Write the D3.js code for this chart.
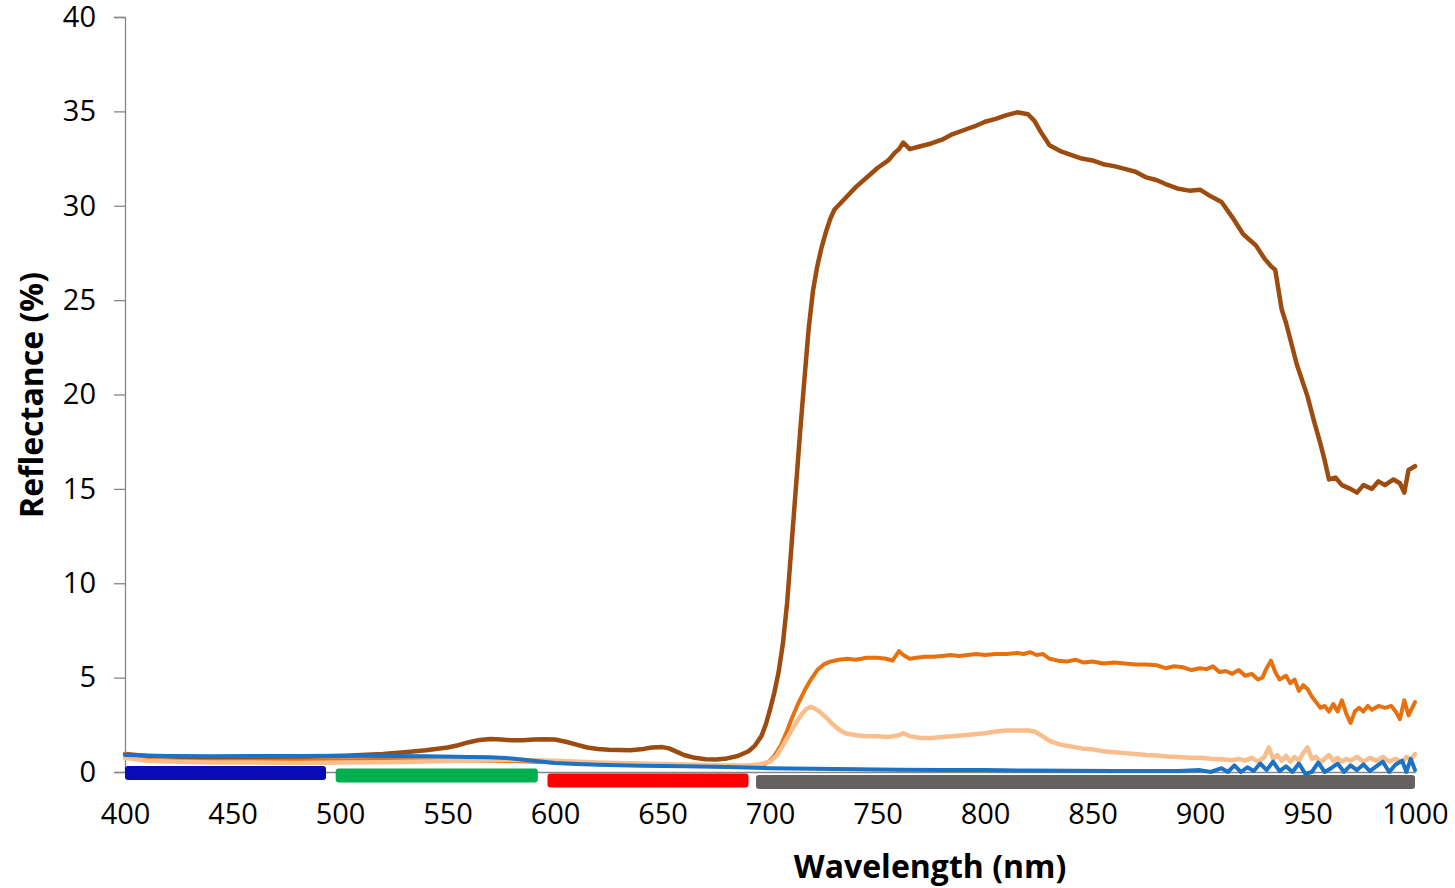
<!DOCTYPE html>
<html>
<head>
<meta charset="utf-8">
<script src="https://cdn.jsdelivr.net/npm/d3@7"></script>
<style>
  html, body { margin: 0; padding: 0; background: #fff; }
  svg { display: block; }
</style>
</head>
<body>
<svg id="chart" width="1455" height="888"></svg>
<script>
// ---------- Axis ticks ----------
const xTicks = [400, 450, 500, 550, 600, 650, 700, 750, 800, 850, 900, 950, 1000];
const yTicks = [0, 5, 10, 15, 20, 25, 30, 35, 40];

// ---------- Series: dark brown ----------
const brownWl = [400,410,420,430,440,450,460,470,480,490,500,510,520,530,540,550,555,560,565,570,575,580,585,590,595,600,605,610,615,620,625,630,635,640,645,650,653,657,660,665,670,675,680,685,690,693,696,698,700,702,704,706,708,710,712,714,716,718,720,722,724,726,728,730,735,740,745,750,755,758,760,762,765,770,775,780,785,790,795,800,805,810,815,820,823,826,830,835,840,845,850,855,860,865,870,875,880,885,890,895,900,905,910,915,920,923,926,930,933,935,938,940,945,950,953,956,958,960,963,966,970,973,976,980,983,986,990,993,995,997,1000];
const brownVal = [0.95,0.85,0.82,0.8,0.78,0.78,0.78,0.8,0.8,0.82,0.85,0.9,0.95,1.05,1.15,1.3,1.42,1.58,1.7,1.75,1.72,1.68,1.68,1.72,1.73,1.72,1.6,1.45,1.3,1.22,1.18,1.16,1.15,1.2,1.3,1.32,1.25,1.05,0.9,0.75,0.68,0.66,0.72,0.85,1.1,1.4,1.9,2.5,3.3,4.2,5.3,6.8,9.0,12.0,15.0,18.0,20.8,23.5,25.5,26.8,27.8,28.6,29.3,29.8,30.4,31.0,31.5,32.0,32.4,32.8,33.0,33.35,33.0,33.15,33.3,33.5,33.8,34.0,34.2,34.45,34.6,34.8,34.95,34.85,34.5,33.9,33.2,32.9,32.7,32.5,32.4,32.2,32.1,31.95,31.8,31.5,31.35,31.1,30.9,30.8,30.85,30.5,30.2,29.4,28.5,28.2,27.9,27.2,26.8,26.6,24.5,23.8,21.6,19.9,18.6,17.4,16.5,15.5,15.6,15.2,15.0,14.8,15.2,15.0,15.4,15.2,15.5,15.3,14.8,16.0,16.2];

// ---------- Series: orange ----------
const orangeWl = [400,405,410,420,440,460,480,500,520,540,560,580,600,620,640,660,680,690,695,698,700,702,705,708,710,713,716,719,722,725,728,732,736,740,745,750,754,757,760,762,765,768,772,776,780,784,788,792,796,800,805,810,815,818,821,824,827,830,834,838,842,846,850,855,860,865,870,875,880,884,888,892,896,900,903,906,909,912,915,918,921,924,927,929,931,933,935,937,940,942,944,946,948,950,952,954,956,958,960,962,964,966,968,970,972,974,976,978,980,983,986,989,991,993,995,997,1000];
const orangeVal = [0.95,0.75,0.65,0.6,0.58,0.58,0.6,0.62,0.63,0.62,0.6,0.58,0.5,0.42,0.38,0.35,0.3,0.3,0.35,0.45,0.6,0.85,1.4,2.2,2.8,3.6,4.3,4.9,5.4,5.7,5.85,5.95,6.0,5.95,6.05,6.05,6.0,5.9,6.4,6.2,6.0,6.05,6.1,6.1,6.15,6.2,6.15,6.2,6.25,6.2,6.25,6.25,6.3,6.25,6.35,6.2,6.25,6.0,5.9,5.85,5.95,5.8,5.85,5.75,5.8,5.75,5.7,5.7,5.65,5.5,5.6,5.55,5.4,5.5,5.45,5.6,5.3,5.35,5.2,5.4,5.1,5.2,4.9,5.0,5.5,5.9,5.3,4.9,5.1,4.7,4.9,4.3,4.6,4.4,4.0,3.7,3.4,3.5,3.2,3.6,3.2,3.8,3.1,2.6,3.2,3.4,3.2,3.5,3.3,3.5,3.4,3.5,3.2,2.8,3.8,3.0,3.7];

// ---------- Series: light peach ----------
const peachWl = [400,410,420,440,460,480,500,520,540,560,580,600,620,640,660,680,690,695,700,703,706,709,712,715,717,719,721,723,726,729,732,735,740,745,750,755,760,762,765,770,775,780,785,790,795,800,805,810,815,820,823,826,830,835,840,845,850,855,860,865,870,875,880,885,890,895,900,905,910,915,918,921,924,927,930,932,934,936,938,940,942,944,946,948,950,952,954,956,958,960,962,964,966,968,970,973,976,979,982,985,988,991,994,996,998,1000];
const peachVal = [0.75,0.6,0.55,0.5,0.5,0.48,0.5,0.52,0.55,0.6,0.65,0.6,0.5,0.45,0.4,0.35,0.35,0.4,0.55,0.85,1.4,2.0,2.6,3.1,3.35,3.45,3.35,3.2,2.9,2.55,2.25,2.05,1.95,1.9,1.9,1.85,1.95,2.05,1.9,1.8,1.8,1.85,1.9,1.95,2.0,2.05,2.15,2.2,2.2,2.2,2.15,1.95,1.65,1.45,1.35,1.25,1.2,1.1,1.05,1.0,0.95,0.9,0.88,0.82,0.8,0.75,0.75,0.7,0.68,0.62,0.7,0.6,0.75,0.55,0.8,1.3,0.7,0.9,0.6,0.85,0.55,0.8,0.6,1.0,1.3,0.7,0.8,0.5,0.7,0.9,0.6,0.75,0.55,0.7,0.6,0.8,0.55,0.75,0.6,0.8,0.55,0.7,0.5,0.8,0.65,0.95];

// ---------- Series: blue ----------
const blueWl = [400,410,420,440,460,480,500,520,540,560,570,580,590,600,610,620,640,660,680,700,720,740,760,780,800,820,840,860,880,890,900,905,910,913,916,919,922,925,928,931,934,937,940,943,946,949,952,955,958,961,964,967,970,973,976,979,982,985,988,991,994,996,998,1000];
const blueVal = [0.9,0.88,0.85,0.84,0.85,0.85,0.86,0.85,0.83,0.8,0.78,0.72,0.6,0.48,0.42,0.38,0.33,0.3,0.26,0.2,0.17,0.15,0.12,0.1,0.1,0.08,0.06,0.05,0.05,0.05,0.1,0.0,0.2,0.0,0.35,0.0,0.25,0.05,0.45,0.1,0.55,0.05,0.3,0.0,0.45,-0.1,0.0,0.5,0.0,0.2,0.45,0.0,0.35,0.1,0.4,0.05,0.3,0.55,0.0,0.4,0.6,0.0,0.7,0.1];

// ---------- Spectral band indicator bars ----------
const bandStart = [400, 498, 596.5, 693.5];
const bandEnd   = [493.5, 592, 690, 1000];
const bandLevel = [-0.05, -0.19, -0.45, -0.53];
const bandColor = ["#0A0AB6", "#00B050", "#FF0000", "#656161"];

const seriesList = [
  { wl: brownWl,  val: brownVal,  color: "#9E4B10", width: 4.5 },
  { wl: orangeWl, val: orangeVal, color: "#E8710F", width: 4 },
  { wl: peachWl,  val: peachVal,  color: "#F9BE8C", width: 4.5 },
  { wl: blueWl,   val: blueVal,   color: "#1C72C4", width: 4 }
];

// ---------- Layout ----------
const svg = d3.select("#chart");
const plotLeft = 125, plotRight = 1415, plotTop = 17, plotBottom = 772;
const x = d3.scaleLinear().domain([400, 1000]).range([plotLeft, plotRight]);
const y = d3.scaleLinear().domain([0, 40]).range([plotBottom, plotTop]);
const font = "'Open Sans', 'Noto Sans', sans-serif";
const axisColor = "#868686";

// X axis (domain line only, labels below)
const gx = svg.append("g")
  .attr("transform", `translate(0,${plotBottom})`)
  .call(d3.axisBottom(x).tickValues(xTicks).tickSize(0).tickPadding(31).tickFormat(d3.format("d")));
gx.select(".domain").attr("stroke", axisColor).attr("stroke-width", 1.3);
gx.selectAll("text").attr("font-family", font).attr("font-size", 29).attr("fill", "#000");

// Y axis
const gy = svg.append("g")
  .attr("transform", `translate(${plotLeft},0)`)
  .call(d3.axisLeft(y).tickValues(yTicks).tickSize(11).tickPadding(18).tickFormat(d3.format("d")));
gy.select(".domain").attr("stroke", axisColor).attr("stroke-width", 1.3);
gy.selectAll(".tick line").attr("stroke", axisColor).attr("stroke-width", 1.3);
gy.selectAll("text").attr("font-family", font).attr("font-size", 29).attr("fill", "#000");

// Band bars
const barH = 14;
svg.append("g").selectAll("rect")
  .data(bandStart.map((s, i) => ({ s, e: bandEnd[i], lvl: bandLevel[i], c: bandColor[i] })))
  .join("rect")
  .attr("x", d => x(d.s))
  .attr("width", d => x(d.e) - x(d.s))
  .attr("y", d => y(d.lvl) - barH / 2)
  .attr("height", barH)
  .attr("rx", 3)
  .attr("fill", d => d.c);

// Lines
const line = d3.line().x(d => x(d[0])).y(d => y(d[1])).curve(d3.curveLinear);
svg.append("g").selectAll("path")
  .data(seriesList)
  .join("path")
  .attr("d", s => line(s.wl.map((w, i) => [w, s.val[i]])))
  .attr("fill", "none")
  .attr("stroke", s => s.color)
  .attr("stroke-width", s => s.width)
  .attr("stroke-linejoin", "round")
  .attr("stroke-linecap", "round");

// Axis titles
svg.append("text")
  .attr("transform", `translate(43,395) rotate(-90)`)
  .attr("text-anchor", "middle")
  .attr("font-family", font)
  .attr("font-weight", "bold")
  .attr("font-size", 32)
  .attr("fill", "#000")
  .text("Reflectance (%)");

svg.append("text")
  .attr("x", 930)
  .attr("y", 878)
  .attr("text-anchor", "middle")
  .attr("font-family", font)
  .attr("font-weight", "bold")
  .attr("font-size", 32)
  .attr("fill", "#000")
  .text("Wavelength (nm)");
</script>
</body>
</html>
